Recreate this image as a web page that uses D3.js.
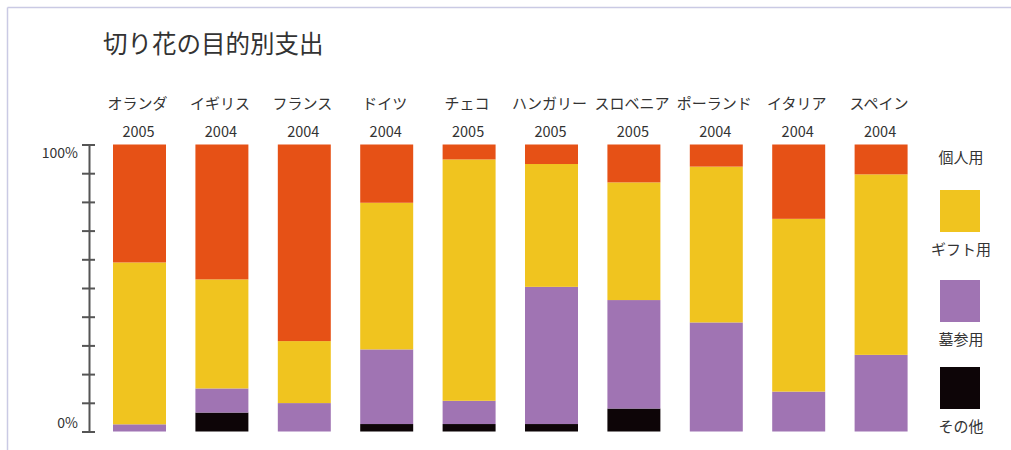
<!DOCTYPE html>
<html>
<head>
<meta charset="utf-8">
<script src="https://cdn.jsdelivr.net/npm/d3@7"></script>
<style>
  body { margin: 0; background: #fff; }
  text { font-family: "Noto Sans CJK JP", "Noto Sans", sans-serif; fill: #333; }
</style>
</head>
<body>
<div class="chart"></div>
<script>
// data (percent of spending)
let countries = ["オランダ", "イギリス", "フランス", "ドイツ", "チェコ", "ハンガリー", "スロベニア", "ポーランド", "イタリア", "スペイン"];
let years = ["2005", "2004", "2004", "2004", "2005", "2005", "2005", "2004", "2004", "2004"];
let personal = [41.1, 47.0, 68.5, 20.3, 5.2, 6.8, 13.2, 7.7, 25.9, 10.4];
let gift     = [56.4, 38.0, 21.6, 51.1, 84.1, 42.8, 41.0, 54.3, 60.2, 62.9];
let grave    = [2.5, 8.4, 9.9, 26.0, 8.1, 47.8, 37.8, 38.0, 13.9, 26.7];
let other    = [0, 6.6, 0, 2.6, 2.6, 2.6, 8.0, 0, 0, 0];

let seriesKeys = ["other", "grave", "gift", "personal"];
let seriesNames = {personal: "個人用", gift: "ギフト用", grave: "墓参用", other: "その他"};
let colors = {personal: "#e65116", gift: "#f0c41f", grave: "#a074b3", other: "#0d0507"};

let rows = countries.map(function(c, i) {
    return {country: c, year: years[i], personal: personal[i], gift: gift[i], grave: grave[i], other: other[i]};
});

let W = 1011, H = 450;

let svg = d3.select(".chart").append("svg")
    .attr("width", W)
    .attr("height", H);

// faint frame on top and left
svg.append("line").attr("x1", 7.5).attr("x2", W).attr("y1", 7.5).attr("y2", 7.5)
    .attr("stroke", "#cacae4").attr("stroke-width", 1.5);
svg.append("line").attr("x1", 7.5).attr("x2", 7.5).attr("y1", 7.5).attr("y2", H)
    .attr("stroke", "#cacae4").attr("stroke-width", 1.5);

svg.append("text")
    .attr("x", 103)
    .attr("y", 53)
    .attr("font-size", 24.5)
    .text("切り花の目的別支出");

let x = d3.scaleBand()
    .domain(countries)
    .range([98.3, 922.3])
    .paddingInner(0.357)
    .paddingOuter(0.1785);

let y = d3.scaleLinear()
    .domain([0, 100])
    .range([431.5, 144.5]);

let stacked = d3.stack().keys(seriesKeys)(rows);

svg.append("g").selectAll("g")
    .data(stacked)
    .enter().append("g")
    .attr("fill", function(d) { return colors[d.key]; })
    .selectAll("rect")
    .data(function(d) { return d; })
    .enter().append("rect")
    .attr("x", function(d) { return x(d.data.country); })
    .attr("y", function(d) { return y(d[1]); })
    .attr("width", x.bandwidth())
    .attr("height", function(d) { return y(d[0]) - y(d[1]); });

// country / year labels
let lab = svg.append("g");
lab.selectAll(".cname")
    .data(rows)
    .enter().append("text")
    .attr("class", "cname")
    .attr("x", function(d) { return x(d.country) + x.bandwidth() / 2 - 2; })
    .attr("y", 109)
    .attr("text-anchor", "middle")
    .attr("font-size", 15)
    .text(function(d) { return d.country; });
lab.selectAll(".year")
    .data(rows)
    .enter().append("text")
    .attr("class", "year")
    .attr("x", function(d) { return x(d.country) + x.bandwidth() / 2 - 1; })
    .attr("y", 137)
    .attr("text-anchor", "middle")
    .attr("font-size", 14.5)
    .text(function(d) { return d.year; });

// y axis with ticks crossing the line
let axis = svg.append("g")
    .attr("transform", "translate(89,0)")
    .call(d3.axisLeft(y).tickValues(d3.range(0, 101, 10)).tickSize(7).tickSizeOuter(0).tickFormat(""));
axis.select(".domain").attr("stroke", "#555").attr("stroke-width", 2);
axis.selectAll(".tick line").attr("x1", 6).attr("stroke", "#555").attr("stroke-width", 2);

svg.append("text").attr("x", 78).attr("y", 158).attr("text-anchor", "end")
    .attr("font-size", 14).attr("fill", "#444").text("100%");
svg.append("text").attr("x", 78).attr("y", 428).attr("text-anchor", "end")
    .attr("font-size", 14).attr("fill", "#444").text("0%");

// legend (the first entry has no swatch in the original)
let legendKeys = ["personal", "gift", "grave", "other"];
let legendTextY = [163, 255, 345, 432];
let legend = svg.append("g");
legendKeys.forEach(function(k, i) {
    if (i > 0) {
        legend.append("rect")
            .attr("x", 940)
            .attr("y", legendTextY[i] - 65)
            .attr("width", 40)
            .attr("height", 42)
            .attr("fill", colors[k]);
    }
    legend.append("text")
        .attr("x", 961)
        .attr("y", legendTextY[i])
        .attr("text-anchor", "middle")
        .attr("font-size", 15)
        .text(seriesNames[k]);
});
</script>
</body>
</html>
